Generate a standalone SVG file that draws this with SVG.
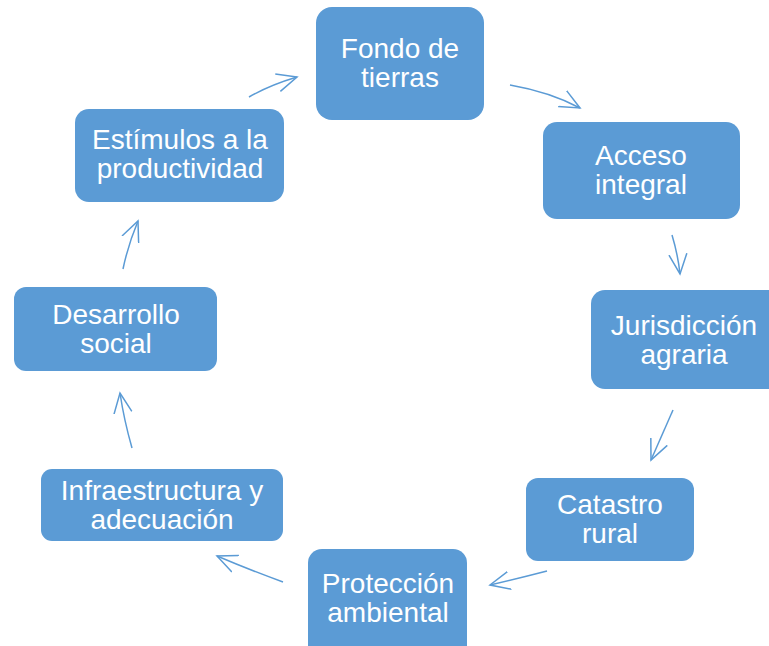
<svg xmlns="http://www.w3.org/2000/svg" width="769" height="646" viewBox="0 0 769 646">
<style>
.box{fill:#5B9BD5;}
.t{font-family:"Liberation Sans",Arial,sans-serif;font-size:28px;fill:#fff;text-anchor:middle;}
.c{fill:none;stroke:#5B9BD5;stroke-width:1.5;}
</style>
<defs>
<marker id="ah" markerUnits="userSpaceOnUse" markerWidth="24" markerHeight="24" refX="20" refY="10" orient="auto" viewBox="0 0 24 20">
<polyline points="0,1 20,10 0,19" fill="none" stroke="#5B9BD5" stroke-width="1.5"/>
</marker>
</defs>
<rect width="769" height="646" fill="#fff"/>
<g id="n1"><rect class="box" x="316" y="7" width="168" height="113" rx="16"/><text class="t" x="400" y="58">Fondo de</text><text class="t" x="400" y="87">tierras</text></g>
<g id="n2"><rect class="box" x="543" y="122" width="197" height="97" rx="14"/><text class="t" x="641" y="165">Acceso</text><text class="t" x="641" y="194">integral</text></g>
<g id="n3"><rect class="box" x="591" y="290" width="195" height="99" rx="14"/><text class="t" x="684" y="335">Jurisdicción</text><text class="t" x="684" y="364">agraria</text></g>
<g id="n4"><rect class="box" x="526" y="478" width="168" height="83" rx="12"/><text class="t" x="610" y="514">Catastro</text><text class="t" x="610" y="543">rural</text></g>
<g id="n5"><rect class="box" x="308" y="549" width="159" height="110" rx="14"/><text class="t" x="388" y="593">Protección</text><text class="t" x="388" y="622">ambiental</text></g>
<g id="n6"><rect class="box" x="41" y="469" width="242" height="72" rx="11"/><text class="t" x="162" y="500">Infraestructura y</text><text class="t" x="162" y="529">adecuación</text></g>
<g id="n7"><rect class="box" x="14" y="287" width="203" height="84" rx="12"/><text class="t" x="116" y="324">Desarrollo</text><text class="t" x="116" y="353">social</text></g>
<g id="n8"><rect class="box" x="75" y="109" width="209" height="93" rx="14"/><text class="t" x="180" y="149">Estímulos a la</text><text class="t" x="180" y="178">productividad</text></g>
<g id="connectors">
<path class="c" marker-end="url(#ah)" d="M249,97 Q270,85 297,77"/>
<path class="c" marker-end="url(#ah)" d="M510,85 Q550,92 580,108"/>
<path class="c" marker-end="url(#ah)" d="M672,235 Q678,255 680,274"/>
<path class="c" marker-end="url(#ah)" d="M673,410 Q662,435 651,460"/>
<path class="c" marker-end="url(#ah)" d="M547,571 Q520,578 490,585"/>
<path class="c" marker-end="url(#ah)" d="M283,582 Q250,570 217,556"/>
<path class="c" marker-end="url(#ah)" d="M132,448 Q124,420 120,393"/>
<path class="c" marker-end="url(#ah)" d="M123,269 Q128,245 138,221"/>
</g>
</svg>
